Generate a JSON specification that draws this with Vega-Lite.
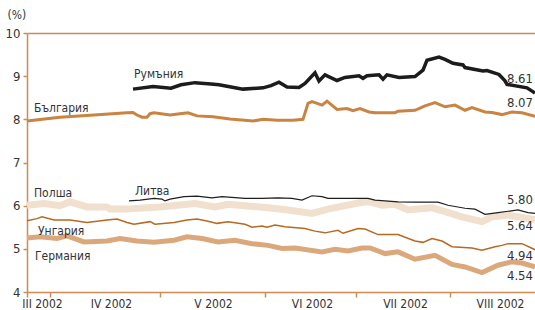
{
  "$schema": "https://vega.github.io/schema/vega-lite/v6.json",
  "width": 508,
  "height": 259,
  "autosize": {"type": "none"},
  "padding": {"left": 27, "top": 33, "right": 0, "bottom": 18},
  "background": "white",
  "config": {
    "view": {"stroke": null},
    "font": "'DejaVu Sans Condensed', 'Liberation Sans Narrow', Roboto, sans-serif",
    "axis": {"labelFont": "'DejaVu Sans Condensed', 'Liberation Sans Narrow', Roboto, sans-serif", "titleFont": "'DejaVu Sans Condensed', 'Liberation Sans Narrow', Roboto, sans-serif", "grid": false},
    "text": {"font": "'DejaVu Sans Condensed', 'Liberation Sans Narrow', Roboto, sans-serif"}
  },
  "datasets": {
    "series": [
      {"s":"Полша","t":0,"v":6.01},{"s":"Полша","t":4.25,"v":6.05},{"s":"Полша","t":8.25,"v":6.0},{"s":"Полша","t":10.75,"v":6.09},{"s":"Полша","t":15,"v":5.97},{"s":"Полша","t":20,"v":5.97},{"s":"Полша","t":20.75,"v":5.92},{"s":"Полша","t":25,"v":5.92},{"s":"Полша","t":30,"v":5.95},{"s":"Полша","t":33.25,"v":5.97},{"s":"Полша","t":37.5,"v":6.01},{"s":"Полша","t":42,"v":6.05},{"s":"Полша","t":47,"v":5.97},{"s":"Полша","t":50.25,"v":6.03},{"s":"Полша","t":54.5,"v":6.0},{"s":"Полша","t":60.25,"v":5.95},{"s":"Полша","t":65.25,"v":5.9},{"s":"Полша","t":71.25,"v":5.82},{"s":"Полша","t":75.25,"v":5.92},{"s":"Полша","t":79.5,"v":6.0},{"s":"Полша","t":83.75,"v":6.08},{"s":"Полша","t":85.75,"v":6.09},{"s":"Полша","t":88.75,"v":6.01},{"s":"Полша","t":92,"v":6.03},{"s":"Полша","t":95.25,"v":5.9},{"s":"Полша","t":101.25,"v":5.95},{"s":"Полша","t":104.5,"v":5.86},{"s":"Полша","t":108.75,"v":5.74},{"s":"Полша","t":113.75,"v":5.63},{"s":"Полша","t":116.25,"v":5.74},{"s":"Полша","t":120.25,"v":5.78},{"s":"Полша","t":127,"v":5.68},

      {"s":"Германия","t":0,"v":5.25},{"s":"Германия","t":3.25,"v":5.28},{"s":"Германия","t":7.5,"v":5.24},{"s":"Германия","t":10,"v":5.3},{"s":"Германия","t":14.25,"v":5.16},{"s":"Германия","t":20,"v":5.18},{"s":"Германия","t":23.25,"v":5.24},{"s":"Германия","t":27.5,"v":5.18},{"s":"Германия","t":31.75,"v":5.15},{"s":"Германия","t":36.75,"v":5.2},{"s":"Германия","t":40,"v":5.28},{"s":"Германия","t":43.75,"v":5.24},{"s":"Германия","t":47.75,"v":5.16},{"s":"Германия","t":52,"v":5.2},{"s":"Германия","t":56.25,"v":5.12},{"s":"Германия","t":60.25,"v":5.08},{"s":"Германия","t":63.75,"v":5.01},{"s":"Германия","t":67,"v":5.02},{"s":"Германия","t":73.75,"v":4.93},{"s":"Германия","t":77,"v":4.99},{"s":"Германия","t":80.25,"v":4.95},{"s":"Германия","t":83.75,"v":5.02},{"s":"Германия","t":85.75,"v":5.02},{"s":"Германия","t":89.5,"v":4.89},{"s":"Германия","t":92.75,"v":4.93},{"s":"Германия","t":97,"v":4.76},{"s":"Германия","t":102,"v":4.85},{"s":"Германия","t":106.25,"v":4.64},{"s":"Германия","t":109.5,"v":4.58},{"s":"Германия","t":113.75,"v":4.45},{"s":"Германия","t":117.75,"v":4.62},{"s":"Германия","t":121.25,"v":4.7},{"s":"Германия","t":123.75,"v":4.67},{"s":"Германия","t":127,"v":4.58},

      {"s":"България","t":0,"v":7.96},{"s":"България","t":8.25,"v":8.05},{"s":"България","t":16.75,"v":8.1},{"s":"България","t":25,"v":8.15},{"s":"България","t":26.5,"v":8.16},{"s":"България","t":27.5,"v":8.1},{"s":"България","t":28.75,"v":8.05},{"s":"България","t":30,"v":8.05},{"s":"България","t":30.75,"v":8.13},{"s":"България","t":31.75,"v":8.15},{"s":"България","t":35.75,"v":8.1},{"s":"България","t":38.25,"v":8.13},{"s":"България","t":40.25,"v":8.15},{"s":"България","t":42.5,"v":8.08},{"s":"България","t":46.5,"v":8.06},{"s":"България","t":50.75,"v":8.01},{"s":"България","t":56.5,"v":7.96},{"s":"България","t":59,"v":8.0},{"s":"България","t":62.5,"v":7.98},{"s":"България","t":66.5,"v":7.98},{"s":"България","t":69,"v":8.0},{"s":"България","t":70.25,"v":8.37},{"s":"България","t":71.25,"v":8.41},{"s":"България","t":73.75,"v":8.33},{"s":"България","t":75,"v":8.42},{"s":"България","t":77.5,"v":8.23},{"s":"България","t":80,"v":8.25},{"s":"България","t":81.5,"v":8.2},{"s":"България","t":83.25,"v":8.25},{"s":"България","t":85.5,"v":8.17},{"s":"България","t":87,"v":8.15},{"s":"България","t":92,"v":8.15},{"s":"България","t":92.75,"v":8.19},{"s":"България","t":97,"v":8.21},{"s":"България","t":99.5,"v":8.31},{"s":"България","t":102,"v":8.39},{"s":"България","t":104.5,"v":8.29},{"s":"България","t":107,"v":8.33},{"s":"България","t":109.5,"v":8.21},{"s":"България","t":111.25,"v":8.27},{"s":"България","t":114.5,"v":8.17},{"s":"България","t":116.25,"v":8.16},{"s":"България","t":118.75,"v":8.11},{"s":"България","t":121.25,"v":8.17},{"s":"България","t":123.75,"v":8.15},{"s":"България","t":127,"v":8.07},

      {"s":"Унгария","t":0,"v":5.65},{"s":"Унгария","t":2.5,"v":5.7},{"s":"Унгария","t":3.75,"v":5.74},{"s":"Унгария","t":6.75,"v":5.67},{"s":"Унгария","t":10.75,"v":5.67},{"s":"Унгария","t":15,"v":5.61},{"s":"Унгария","t":20,"v":5.67},{"s":"Унгария","t":22.5,"v":5.69},{"s":"Унгария","t":25,"v":5.61},{"s":"Унгария","t":26.75,"v":5.57},{"s":"Унгария","t":30.75,"v":5.63},{"s":"Унгария","t":32,"v":5.57},{"s":"Унгария","t":36.75,"v":5.61},{"s":"Унгария","t":40,"v":5.67},{"s":"Унгария","t":42.5,"v":5.69},{"s":"Унгария","t":45.25,"v":5.64},{"s":"Унгария","t":47.5,"v":5.59},{"s":"Унгария","t":50.25,"v":5.63},{"s":"Унгария","t":54.5,"v":5.57},{"s":"Унгария","t":56.25,"v":5.5},{"s":"Унгария","t":58.75,"v":5.53},{"s":"Унгария","t":60,"v":5.5},{"s":"Унгария","t":62,"v":5.55},{"s":"Унгария","t":64.5,"v":5.51},{"s":"Унгария","t":69.5,"v":5.47},{"s":"Унгария","t":72,"v":5.41},{"s":"Унгария","t":74.5,"v":5.37},{"s":"Унгария","t":77.75,"v":5.43},{"s":"Унгария","t":79,"v":5.36},{"s":"Унгария","t":82.75,"v":5.47},{"s":"Унгария","t":84.5,"v":5.46},{"s":"Унгария","t":87.75,"v":5.33},{"s":"Унгария","t":92.75,"v":5.33},{"s":"Унгария","t":97,"v":5.18},{"s":"Унгария","t":99,"v":5.15},{"s":"Унгария","t":101.25,"v":5.24},{"s":"Унгария","t":103.75,"v":5.18},{"s":"Унгария","t":106.25,"v":5.05},{"s":"Унгария","t":111.25,"v":5.02},{"s":"Унгария","t":113.75,"v":4.97},{"s":"Унгария","t":117,"v":5.05},{"s":"Унгария","t":118.75,"v":5.08},{"s":"Унгария","t":120.25,"v":5.12},{"s":"Унгария","t":123.75,"v":5.12},{"s":"Унгария","t":127,"v":4.98},

      {"s":"Литва","t":25.5,"v":6.11},{"s":"Литва","t":28.25,"v":6.13},{"s":"Литва","t":31.75,"v":6.17},{"s":"Литва","t":33.75,"v":6.15},{"s":"Литва","t":34.5,"v":6.11},{"s":"Литва","t":35.75,"v":6.15},{"s":"Литва","t":39.25,"v":6.21},{"s":"Литва","t":42.5,"v":6.22},{"s":"Литва","t":46.25,"v":6.18},{"s":"Литва","t":48.75,"v":6.21},{"s":"Литва","t":54.5,"v":6.17},{"s":"Литва","t":58.75,"v":6.17},{"s":"Литва","t":62.75,"v":6.18},{"s":"Литва","t":66.25,"v":6.17},{"s":"Литва","t":68.75,"v":6.13},{"s":"Литва","t":71.25,"v":6.23},{"s":"Литва","t":73.75,"v":6.21},{"s":"Литва","t":75.25,"v":6.17},{"s":"Литва","t":79.5,"v":6.17},{"s":"Литва","t":85.25,"v":6.17},{"s":"Литва","t":87,"v":6.13},{"s":"Литва","t":92.75,"v":6.09},{"s":"Литва","t":97,"v":6.08},{"s":"Литва","t":102.75,"v":6.08},{"s":"Литва","t":105.25,"v":6.01},{"s":"Литва","t":109.5,"v":5.94},{"s":"Литва","t":112,"v":5.92},{"s":"Литва","t":114.5,"v":5.8},{"s":"Литва","t":117.75,"v":5.84},{"s":"Литва","t":122.75,"v":5.9},{"s":"Литва","t":125.25,"v":5.84},{"s":"Литва","t":127,"v":5.82},

      {"s":"Румъния","t":26.5,"v":8.7},{"s":"Румъния","t":31.5,"v":8.76},{"s":"Румъния","t":36,"v":8.72},{"s":"Румъния","t":38.5,"v":8.8},{"s":"Румъния","t":42,"v":8.85},{"s":"Румъния","t":46,"v":8.82},{"s":"Румъния","t":48,"v":8.8},{"s":"Румъния","t":51,"v":8.75},{"s":"Румъния","t":54,"v":8.7},{"s":"Румъния","t":59,"v":8.73},{"s":"Румъния","t":61,"v":8.78},{"s":"Румъния","t":63,"v":8.86},{"s":"Румъния","t":65,"v":8.75},{"s":"Румъния","t":68,"v":8.74},{"s":"Румъния","t":69.5,"v":8.83},{"s":"Румъния","t":72,"v":9.08},{"s":"Румъния","t":73,"v":8.89},{"s":"Румъния","t":74.5,"v":9.03},{"s":"Румъния","t":77.5,"v":8.9},{"s":"Румъния","t":79.5,"v":8.97},{"s":"Румъния","t":83,"v":9.01},{"s":"Румъния","t":84,"v":8.95},{"s":"Румъния","t":85,"v":9.01},{"s":"Румъния","t":88,"v":9.03},{"s":"Румъния","t":89,"v":8.93},{"s":"Румъния","t":90,"v":9.03},{"s":"Румъния","t":93,"v":8.97},{"s":"Румъния","t":97,"v":8.99},{"s":"Румъния","t":99,"v":9.14},{"s":"Румъния","t":100,"v":9.37},{"s":"Румъния","t":103,"v":9.44},{"s":"Румъния","t":104.5,"v":9.39},{"s":"Румъния","t":106.5,"v":9.3},{"s":"Румъния","t":109,"v":9.26},{"s":"Румъния","t":109.5,"v":9.2},{"s":"Румъния","t":114,"v":9.12},{"s":"Румъния","t":115,"v":9.13},{"s":"Румъния","t":118,"v":9.04},{"s":"Румъния","t":119.5,"v":8.89},{"s":"Румъния","t":120,"v":8.81},{"s":"Румъния","t":125,"v":8.73},{"s":"Румъния","t":127,"v":8.61}
    ],
    "names": [
      {"name":"Румъния","t":26.75,"v":8.95},
      {"name":"България","t":1.75,"v":8.17},
      {"name":"Полша","t":1.75,"v":6.2},
      {"name":"Литва","t":27,"v":6.25},
      {"name":"Унгария","t":2.75,"v":5.32},
      {"name":"Германия","t":2,"v":4.75}
    ],
    "ends": [
      {"label":"8.61","t":126.5,"v":8.85},
      {"label":"8.07","t":126.5,"v":8.29},
      {"label":"5.80","t":126.5,"v":6.04},
      {"label":"5.64","t":126.5,"v":5.44},
      {"label":"4.94","t":126.5,"v":4.74},
      {"label":"4.54","t":126.5,"v":4.27}
    ]
  },
  "resolve": {"axis": {"x": "independent"}},
  "layer": [
    {
      "data": {"name": "series"},
      "transform": [{"filter": {"field": "s", "equal": "Полша"}}],
      "mark": {"type": "line", "color": "#f1e0cd", "strokeWidth": 7, "interpolate": "linear"},
      "encoding": {
        "x": {"field": "t", "type": "quantitative", "scale": {"domain": [0, 127], "nice": false, "zero": false},
          "axis": {"orient": "bottom", "values": [0, 5.75, 33.25, 59.5, 82.25, 105.75], "labels": false, "title": null,
            "domainColor": "#cc8c55", "domainWidth": 1.5, "tickColor": "#cc8c55", "tickWidth": 1.5, "tickSize": 5, "grid": false}},
        "y": {"field": "v", "type": "quantitative", "scale": {"domain": [4, 10], "nice": false, "zero": false},
          "axis": {"values": [4, 5, 6, 7, 8, 9, 10], "domainColor": "#cc8c55", "domainWidth": 1.5, "tickColor": "#cc8c55", "tickWidth": 1.5, "tickSize": 4,
            "labelFontSize": 13, "labelColor": "#333333", "labelPadding": 3, "grid": false,
            "title": "(%)", "titleAngle": 0, "titleX": -20, "titleY": -15, "titleAlign": "left", "titleBaseline": "alphabetic",
            "titleFontSize": 12, "titleFontWeight": "normal", "titleColor": "#333333"}}
      }
    },
    {
      "data": {"name": "series"},
      "transform": [{"filter": {"field": "s", "equal": "Германия"}}],
      "mark": {"type": "line", "color": "#dba87c", "strokeWidth": 5},
      "encoding": {
        "x": {"field": "t", "type": "quantitative",
          "axis": {"orient": "bottom", "values": [3.75, 21, 46.5, 71.25, 94.5, 118.25], "ticks": false, "domain": false, "title": null,
            "labelExpr": "datum.value < 10 ? 'III 2002' : datum.value < 30 ? 'IV 2002' : datum.value < 60 ? 'V 2002' : datum.value < 80 ? 'VI 2002' : datum.value < 100 ? 'VII 2002' : 'VIII 2002'",
            "labelFontSize": 12, "labelColor": "#333333", "labelPadding": 6, "labelFlush": false, "labelOverlap": false, "grid": false}},
        "y": {"field": "v", "type": "quantitative"}
      }
    },
    {
      "data": {"name": "series"},
      "transform": [{"filter": {"field": "s", "equal": "България"}}],
      "mark": {"type": "line", "color": "#c98442", "strokeWidth": 3},
      "encoding": {
        "x": {"field": "t", "type": "quantitative",
          "axis": {"orient": "top", "labels": false, "ticks": false, "title": null, "domainColor": "#cc8c55", "domainWidth": 1.5, "grid": false}},
        "y": {"field": "v", "type": "quantitative"}
      }
    },
    {
      "data": {"name": "series"},
      "transform": [{"filter": {"field": "s", "equal": "Унгария"}}],
      "mark": {"type": "line", "color": "#b8691f", "strokeWidth": 1.5},
      "encoding": {
        "x": {"field": "t", "type": "quantitative", "axis": null},
        "y": {"field": "v", "type": "quantitative"}
      }
    },
    {
      "data": {"name": "series"},
      "transform": [{"filter": {"field": "s", "equal": "Литва"}}],
      "mark": {"type": "line", "color": "#1f1f1f", "strokeWidth": 1.2},
      "encoding": {
        "x": {"field": "t", "type": "quantitative", "axis": null},
        "y": {"field": "v", "type": "quantitative"}
      }
    },
    {
      "data": {"name": "series"},
      "transform": [{"filter": {"field": "s", "equal": "Румъния"}}],
      "mark": {"type": "line", "color": "#1c1c1c", "strokeWidth": 3.5},
      "encoding": {
        "x": {"field": "t", "type": "quantitative", "axis": null},
        "y": {"field": "v", "type": "quantitative"}
      }
    },
    {
      "data": {"name": "names"},
      "mark": {"type": "text", "align": "left", "baseline": "alphabetic", "fontSize": 12, "color": "#333333"},
      "encoding": {
        "x": {"field": "t", "type": "quantitative", "axis": null},
        "y": {"field": "v", "type": "quantitative"},
        "text": {"field": "name"}
      }
    },
    {
      "data": {"name": "ends"},
      "mark": {"type": "text", "align": "right", "baseline": "alphabetic", "fontSize": 13, "color": "#333333"},
      "encoding": {
        "x": {"field": "t", "type": "quantitative", "axis": null},
        "y": {"field": "v", "type": "quantitative"},
        "text": {"field": "label"}
      }
    }
  ]
}
